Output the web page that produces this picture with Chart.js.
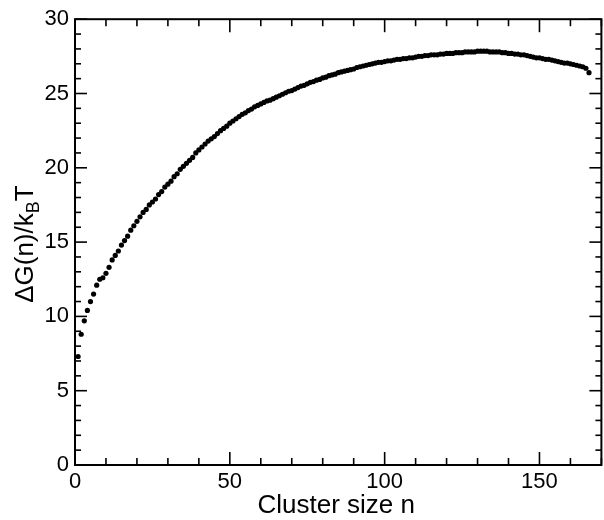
<!DOCTYPE html>
<html><head><meta charset="utf-8">
<script src="https://cdn.jsdelivr.net/npm/chart.js@4"></script>
<style>html,body{margin:0;padding:0;background:#fff}</style>
</head><body>
<canvas id="c" width="604" height="520"></canvas>
<script>
const clusterSize = [1,2,3,4,5,6,7,8,9,10,11,12,13,14,15,16,17,18,19,20,21,22,23,24,25,26,27,28,29,30,
31,32,33,34,35,36,37,38,39,40,41,42,43,44,45,46,47,48,49,50,51,52,53,54,55,56,57,58,59,60,
61,62,63,64,65,66,67,68,69,70,71,72,73,74,75,76,77,78,79,80,81,82,83,84,85,86,87,88,89,90,
91,92,93,94,95,96,97,98,99,100,101,102,103,104,105,106,107,108,109,110,111,112,113,114,115,116,117,118,119,120,
121,122,123,124,125,126,127,128,129,130,131,132,133,134,135,136,137,138,139,140,141,142,143,144,145,146,147,148,149,150,
151,152,153,154,155,156,157,158,159,160,161,162,163,164,165,166];
const freeEnergy = [7.3,8.8,9.7,10.4,11.0,11.5,12.1,12.5,12.6,12.9,13.3,13.8,14.1,14.4,14.8,15.1,15.4,15.8,16.1,16.4,
16.7,17.0,17.2,17.5,17.7,17.9,18.2,18.4,18.7,18.9,19.1,19.4,19.6,19.9,20.1,20.3,20.5,20.7,21.0,21.2,
21.4,21.6,21.8,21.95,22.1,22.3,22.5,22.65,22.8,23.0,23.15,23.3,23.45,23.6,23.7,23.85,23.95,24.1,24.2,24.3,
24.4,24.5,24.55,24.65,24.75,24.85,24.95,25.05,25.15,25.2,25.3,25.4,25.5,25.55,25.65,25.75,25.8,25.9,25.95,26.05,
26.1,26.2,26.25,26.3,26.4,26.45,26.5,26.55,26.6,26.65,26.75,26.8,26.85,26.9,26.95,27.0,27.05,27.1,27.1,27.15,
27.2,27.2,27.25,27.3,27.3,27.35,27.35,27.4,27.4,27.45,27.5,27.5,27.55,27.55,27.6,27.6,27.6,27.65,27.65,27.7,
27.7,27.7,27.75,27.75,27.75,27.8,27.8,27.8,27.8,27.85,27.85,27.85,27.85,27.8,27.8,27.8,27.8,27.75,27.75,27.7,
27.7,27.65,27.65,27.6,27.6,27.55,27.5,27.45,27.4,27.4,27.35,27.3,27.3,27.25,27.2,27.15,27.1,27.05,27.05,27.0,
26.95,26.9,26.85,26.8,26.7,26.4];
const xTickLabels = [0,50,100,150];
const yTickLabels = [0,5,10,15,20,25,30];
const xMinorStep = 10, yMinorStep = 1;
const xMax = 170, yMax = 30;

const FONT = '"Liberation Sans", Arial, Helvetica, sans-serif';

const frame = {
  id: 'frame',
  afterDraw(chart) {
    const {ctx, chartArea: a, scales: {x, y}} = chart;
    ctx.save();
    ctx.strokeStyle = '#000';
    ctx.lineWidth = 2;
    ctx.strokeRect(a.left, a.top, a.right - a.left, a.bottom - a.top);
    ctx.lineWidth = 1.6;
    const seg = (x1, y1, x2, y2) => { ctx.beginPath(); ctx.moveTo(x1, y1); ctx.lineTo(x2, y2); ctx.stroke(); };
    for (let v = 0; v <= xMax; v += xMinorStep) {
      const px = x.getPixelForValue(v);
      const L = v % 50 === 0 ? 13 : 7;
      seg(px, a.bottom, px, a.bottom - L);
      seg(px, a.top, px, a.top + L);
    }
    for (let v = 0; v <= yMax; v += yMinorStep) {
      const py = y.getPixelForValue(v);
      const L = v % 5 === 0 ? 12 : 6;
      seg(a.left, py, a.left + L, py);
      seg(a.right, py, a.right - L, py);
    }
    // axis titles
    ctx.fillStyle = '#000';
    ctx.textBaseline = 'alphabetic';
    ctx.font = '26px ' + FONT;
    ctx.textAlign = 'center';
    ctx.fillText('Cluster size n', (a.left + a.right) / 2 - 2, 513);
    // y title with subscript
    ctx.save();
    ctx.translate(33, (a.top + a.bottom) / 2 + 2);
    ctx.rotate(-Math.PI / 2);
    ctx.textAlign = 'left';
    const big = '26px ' + FONT, small = '18px ' + FONT;
    ctx.font = big; const w1 = ctx.measureText('\u0394G(n)/k').width;
    ctx.font = small; const w2 = ctx.measureText('B').width;
    ctx.font = big; const w3 = ctx.measureText('T').width;
    let sx = -(w1 + w2 + w3) / 2;
    ctx.font = big; ctx.fillText('\u0394G(n)/k', sx, 0); sx += w1;
    ctx.font = small; ctx.fillText('B', sx, 6); sx += w2;
    ctx.font = big; ctx.fillText('T', sx, 0);
    ctx.restore();
    ctx.restore();
  }
};

new Chart(document.getElementById('c'), {
  type: 'scatter',
  data: {
    datasets: [{
      data: clusterSize.map((n, i) => ({x: n, y: freeEnergy[i]})),
      backgroundColor: '#000',
      borderWidth: 0,
      pointRadius: 2.6,
      pointHoverRadius: 2.6
    }]
  },
  options: {
    responsive: false,
    animation: false,
    events: [],
    layout: {padding: {top: 15, right: -2, left: 0, bottom: 0}},
    plugins: {legend: {display: false}, tooltip: {enabled: false}},
    scales: {
      x: {
        type: 'linear', min: 0, max: xMax,
        afterBuildTicks: s => { s.ticks = xTickLabels.map(v => ({value: v})); },
        afterFit: s => { s.height = 55; },
        grid: {display: false, drawTicks: false, tickLength: 0},
        border: {display: false},
        ticks: {color: '#000', font: {family: FONT, size: 22}, padding: 4, maxRotation: 0}
      },
      y: {
        type: 'linear', min: 0, max: yMax,
        afterBuildTicks: s => { s.ticks = yTickLabels.map(v => ({value: v})); },
        afterFit: s => { s.width = 75; },
        grid: {display: false, drawTicks: false, tickLength: 0},
        border: {display: false},
        ticks: {color: '#000', font: {family: FONT, size: 22}, padding: 6}
      }
    }
  },
  plugins: [frame]
});
</script>
</body></html>
